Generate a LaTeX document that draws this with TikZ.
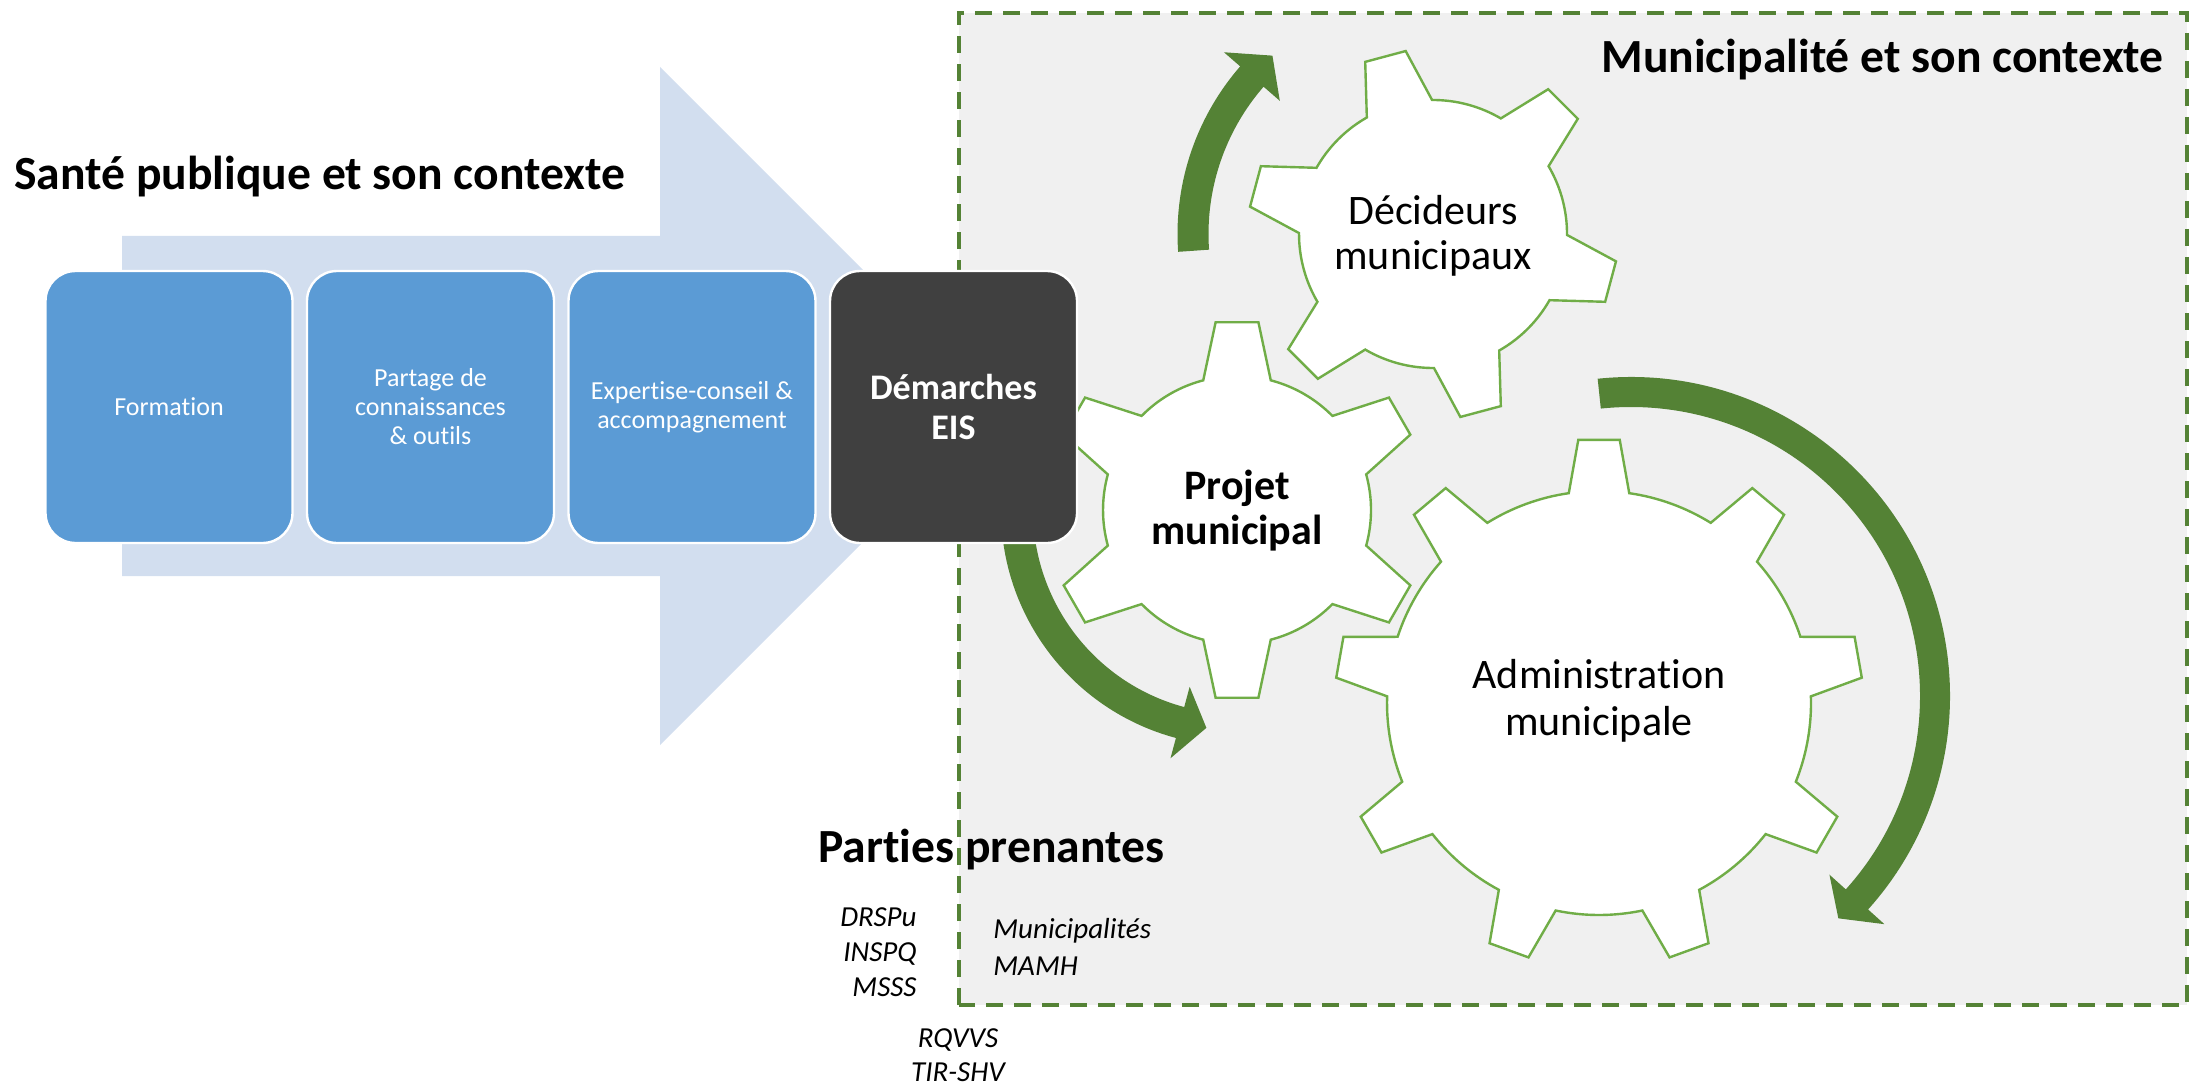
\documentclass[tikz,border=0pt]{standalone}
\usepackage{fontspec}
\setmainfont{Carlito}[Ligatures=NoCommon]
\definecolor{arrowblue}{RGB}{210,222,239}
\definecolor{boxblue}{HTML}{5B9BD5}
\definecolor{boxdark}{HTML}{404040}
\definecolor{zonegray}{HTML}{F0F0F0}
\definecolor{darkgreen}{HTML}{548235}
\definecolor{geargreen}{HTML}{70AD47}
\tikzset{
  stagebox/.style={rounded corners=15pt, draw=white, line width=1.2pt,
    minimum width=123.5pt, minimum height=136pt, text=white, align=center,
    inner sep=2pt},
  bluebox/.style={stagebox, fill=boxblue, font=\fontsize{13pt}{14.5pt}\selectfont},
  darkbox/.style={stagebox, fill=boxdark, font=\bfseries\fontsize{18pt}{20pt}\selectfont},
  gearline/.style={draw=geargreen, fill=white, line width=1.2pt, line join=miter},
  geartext/.style={align=center, text=black, font=\fontsize{21pt}{22.5pt}\selectfont},
  titletext/.style={font=\bfseries\fontsize{23.8pt}{28pt}\selectfont, inner sep=0pt},
  smallit/.style={font=\itshape\fontsize{14.5pt}{17pt}\selectfont, inner sep=0pt},
  arrowgreen/.style={fill=darkgreen},
}
\newcommand\cogwheel[8]{%
  \begin{scope}[shift={(#1,#2)}]
    \pgfmathsetmacro\gR{#5/2}
    \pgfmathsetmacro\gr{#6/2}
    \pgfmathsetmacro\gs{360/#3}
    \filldraw[gearline] ({#4-#8}:\gr pt)
      \foreach \k [evaluate=\k as \p using {#4+(\k-1)*\gs}] in {1,...,#3}{
        -- ({\p-#7}:\gR pt) -- ({\p+#7}:\gR pt) -- ({\p+#8}:\gr pt)
        arc[start angle={\p+#8}, end angle={\p+\gs-#8}, radius=\gr pt]
      } -- cycle;
  \end{scope}}
\newcommand\greenarrow[7]{%
  \begin{scope}[shift={(#1,#2)}]
    \pgfmathsetmacro\ao{(#3+#4/2)/2}
    \pgfmathsetmacro\ai{(#3-#4/2)/2}
    \pgfmathsetmacro\ho{(#3+37)/2}
    \pgfmathsetmacro\hi{(#3-37)/2}
    \pgfmathsetmacro\hm{#3/2}
    \fill[arrowgreen] (#5:\ao pt) arc[start angle=#5, end angle=#6, radius=\ao pt]
      -- (#6:\ho pt) -- (#7:\hm pt) -- (#6:\hi pt) -- (#6:\ai pt)
      arc[start angle=#6, end angle=#5, radius=\ai pt] -- cycle;
  \end{scope}}
\begin{document}
\begin{tikzpicture}[x=0.5pt, y=0.5pt]
\useasboundingbox (0,0) rectangle (2198,1084);
% municipal context zone
\draw[fill=zonegray, draw=darkgreen, line width=2pt, dash pattern=on 8.5pt off 5.5pt]
  (959,79) rectangle (2187,1071);
% big light-blue arrow
\fill[arrowblue] (122,848) -- (660,848) -- (660,1017) -- (999,678) -- (660,339)
  -- (660,508) -- (122,508) -- cycle;
% gears
\cogwheel{1599}{381}{9}{90}{264}{212}{4.5}{8.2}
\cogwheel{1237}{574}{6}{30}{189}{134}{6.5}{14.6}
\cogwheel{1433}{850}{6}{45}{185}{134}{6.5}{14.6}
\node[geartext] (decideurs) at (1433,848) {Décideurs\\municipaux};
\node[geartext, font=\bfseries\fontsize{21pt}{22.5pt}\selectfont] (projet) at (1237,573) {Projet\\municipal};
\node[geartext, font=\fontsize{21pt}{23.5pt}\selectfont] (admin) at (1599,383) {Administration\\municipale};
% green curved arrows
\greenarrow{1433}{850}{240}{31}{184}{139}{132}
\greenarrow{1237}{574}{220}{32}{178}{255}{262}
\greenarrow{1631}{388}{304}{30}{96}{-42}{-47}
% process boxes
\node[bluebox] (formation) at (169,677) {Formation};
\node[bluebox] (partage) at (430.5,677) {Partage de\\connaissances\\\& outils};
\node[bluebox] (expertise) at (692,677) {Expertise-conseil \&\\accompagnement};
\node[darkbox] (eis) at (953.5,677) {Démarches\\EIS};
% titles
\node[titletext, anchor=base west] (sante) at (14,894) {Santé publique et son contexte};
\node[titletext, anchor=base east] (municipalite) at (2164,1011) {Municipalité et son contexte};
\node[titletext, anchor=base west] (parties) at (818,222) {Parties prenantes};
% stakeholders
\node[smallit, anchor=base east] (drspu) at (917,158) {DRSPu};
\node[smallit, anchor=base east] (inspq) at (917,123) {INSPQ};
\node[smallit, anchor=base east] (msss) at (917,88) {MSSS};
\node[smallit, anchor=base west] (munis) at (993,146) {Municipalités};
\node[smallit, anchor=base west] (mamh) at (993,109) {MAMH};
\node[smallit, anchor=base] (rqvvs) at (958,37) {RQVVS};
\node[smallit, anchor=base] (tirshv) at (958,3) {TIR-SHV};
\end{tikzpicture}
\end{document}
